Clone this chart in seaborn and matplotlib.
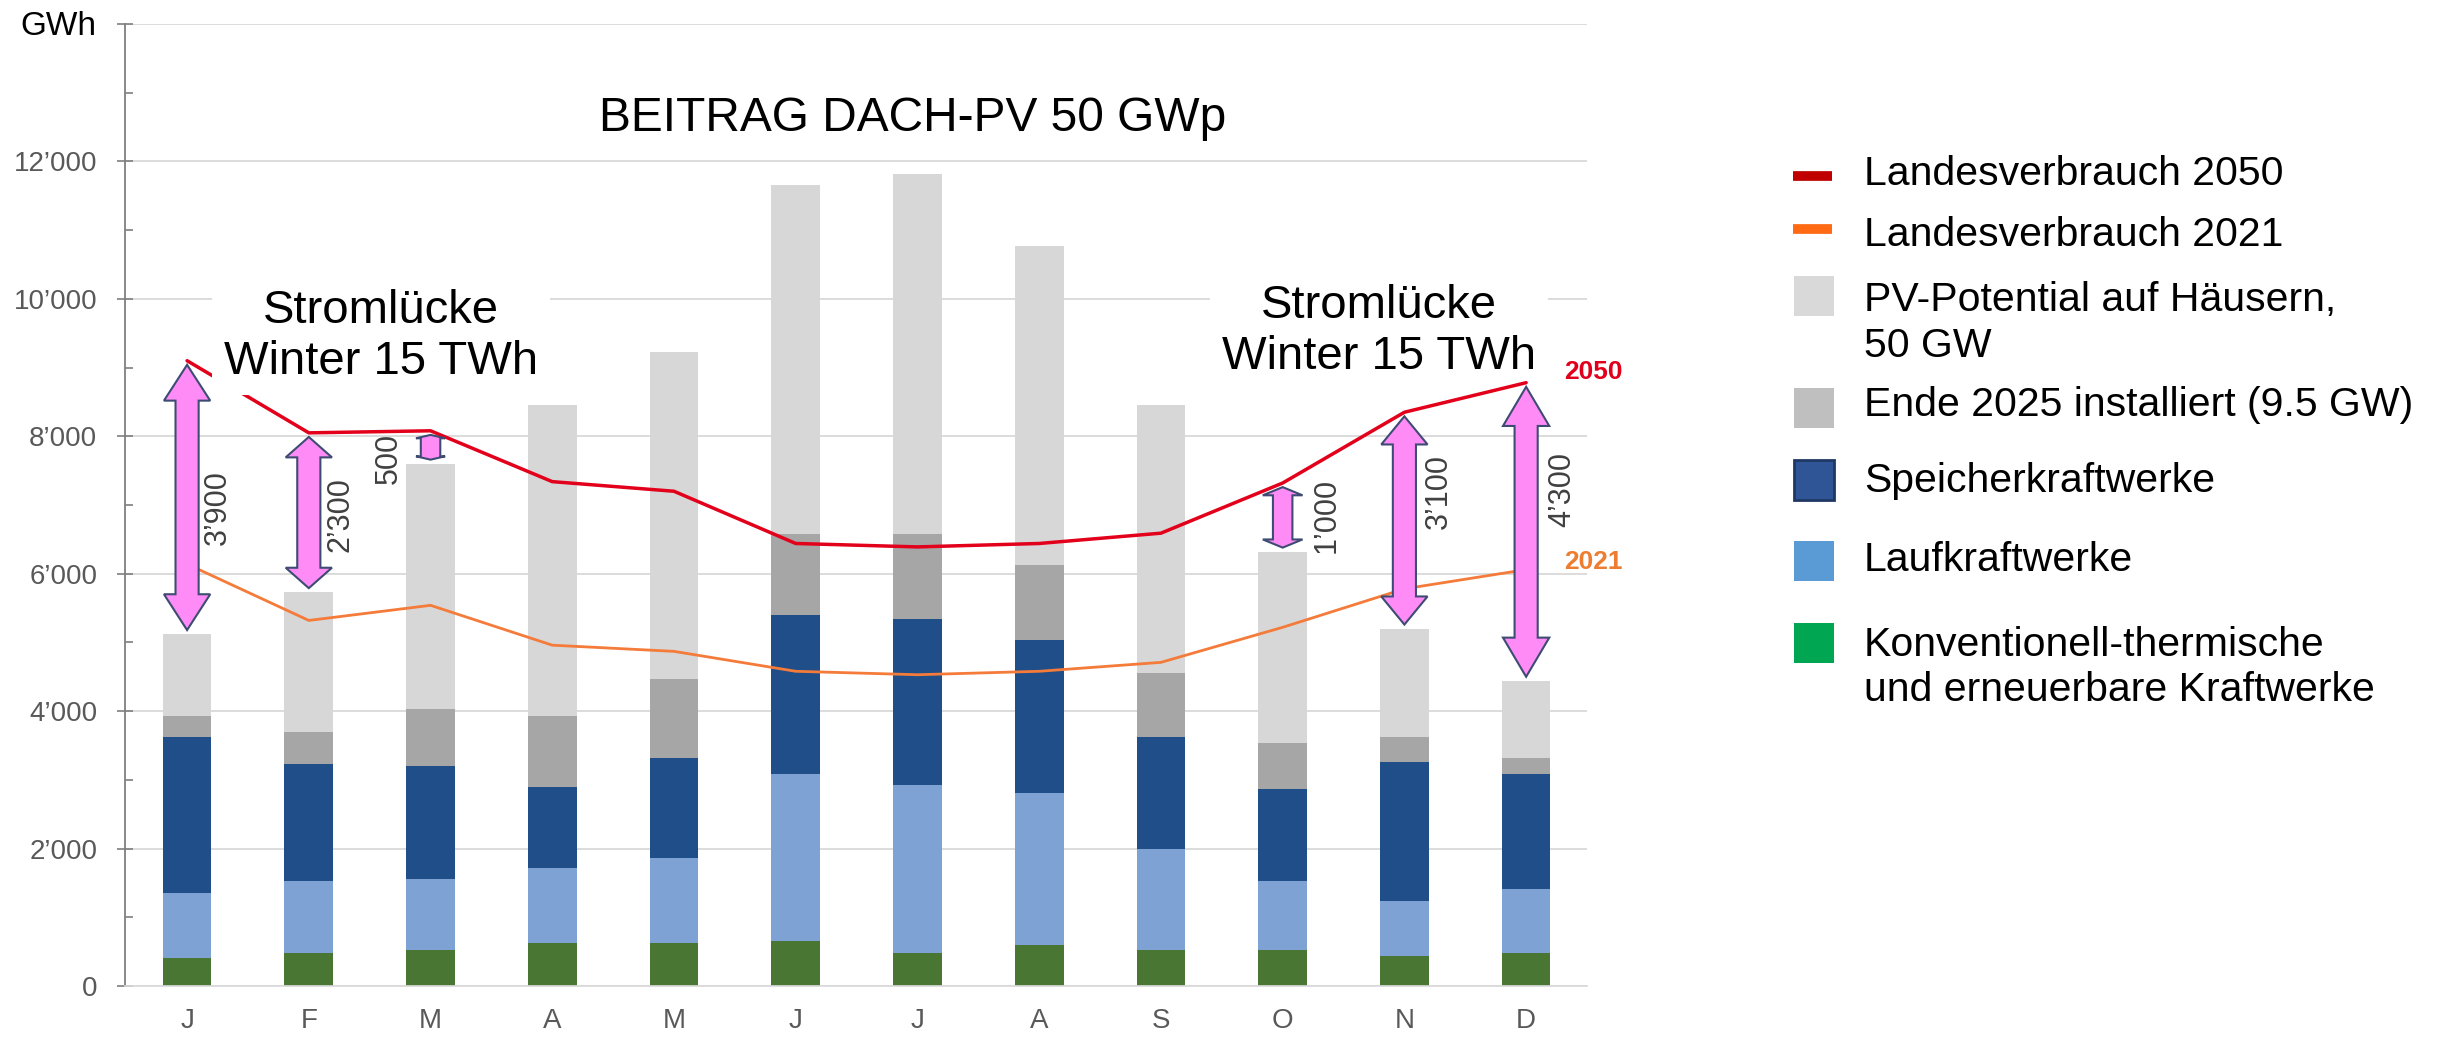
import numpy as np
import pandas as pd
import seaborn as sns
import matplotlib.pyplot as plt
from matplotlib.patches import Polygon, Rectangle
from matplotlib.lines import Line2D
from matplotlib.ticker import FuncFormatter, MultipleLocator

# --- data (GWh per month) ---
months = ['J', 'F', 'M', 'A', 'M', 'J', 'J', 'A', 'S', 'O', 'N', 'D']
thermisch = [410, 475, 530, 620, 620, 650, 475, 590, 530, 530, 440, 475]
laufkraft = [940, 1055, 1030, 1090, 1250, 2430, 2455, 2220, 1460, 1000, 790, 935]
speicher = [2280, 1705, 1645, 1190, 1455, 2320, 2410, 2230, 1640, 1340, 2030, 1670]
pv_2025 = [300, 455, 830, 1030, 1140, 1180, 1240, 1090, 925, 665, 370, 245]
pv_potential = [1190, 2040, 3565, 4530, 4765, 5070, 5230, 4640, 3905, 2785, 1570, 1115]
verbrauch_2050 = [9100, 8050, 8080, 7340, 7200, 6440, 6390, 6440, 6590, 7320, 8350, 8780]
verbrauch_2021 = [6140, 5320, 5540, 4960, 4870, 4580, 4530, 4580, 4710, 5220, 5780, 6060]

# gaps between 2050 demand and bar total
gap_months = [0, 1, 2, 9, 10, 11]
gap_labels = ['3\u2019900', '2\u2019300', '500', '1\u2019000', '3\u2019100', '4\u2019300']

# --- setup ---
sns.set_theme(style='white')
plt.rcParams['font.family'] = ['Liberation Sans', 'DejaVu Sans']

W, H = 2446, 1037
fig = plt.figure(figsize=(W / 100, H / 100), dpi=100)
ax = fig.add_axes([125 / W, 1 - 986 / H, 1462 / W, (986 - 24) / H])

pos = list(range(len(months)))
layers = [thermisch, laufkraft, speicher, pv_2025, pv_potential]
bar_colors = ['#4A7634', '#7FA2D4', '#1F4E89', '#A6A6A6', '#D7D7D7']
tops = np.cumsum(np.array(layers), axis=0)
df = pd.DataFrame({'pos': pos})
for i in range(len(layers)):
    df[f'top{i}'] = tops[i]

# stacked bars: draw the cumulative totals from the top layer down
for i in reversed(range(len(layers))):
    sns.barplot(data=df, x='pos', y=f'top{i}', color=bar_colors[i], width=0.4,
                saturation=1, errorbar=None, linewidth=0, ax=ax, zorder=2)

sns.lineplot(x=pos, y=verbrauch_2050, color='#E3001B', linewidth=2.5, ax=ax, zorder=3)
sns.lineplot(x=pos, y=verbrauch_2021, color='#F47B3A', linewidth=2.0, ax=ax, zorder=3)

# --- gap arrows ---
label_dx = [0.25, 0.26, -0.34, 0.36, 0.28, 0.30]
label_frac = [0.46, 0.49, 0.05, 0.54, 0.64, 0.645]
totals = tops[-1]
for k, m in enumerate(gap_months):
    y0 = totals[m] + 60
    y1 = verbrauch_2050[m] - 60
    span = y1 - y0
    hl = 0.135 * span
    head = min(0.19, 0.09 + span / 12000)
    body = 0.095 if span > 1500 else 0.08
    x = m
    pts = [(x, y1), (x + head, y1 - hl), (x + body, y1 - hl), (x + body, y0 + hl),
           (x + head, y0 + hl), (x, y0), (x - head, y0 + hl), (x - body, y0 + hl),
           (x - body, y1 - hl), (x - head, y1 - hl)]
    ax.add_patch(Polygon(pts, closed=True, facecolor='#FF8CF6', edgecolor='#3E4C74',
                         linewidth=1.5, zorder=4))
    ax.text(x + label_dx[k], y0 + label_frac[k] * span, gap_labels[k], rotation=90,
            ha='center', va='center', fontsize=22, color='#404040', zorder=6)

# --- axes styling ---
ax.set_xlim(-0.51, 11.5)
ax.set_ylim(0, 14000)
ax.set_xticks(pos)
ax.set_xticklabels(months)
ax.set_xlabel('')
ax.set_ylabel('')
ax.yaxis.set_major_locator(MultipleLocator(2000))
ax.yaxis.set_minor_locator(MultipleLocator(1000))
ax.yaxis.set_major_formatter(FuncFormatter(
    lambda v, p: '' if v >= 14000 else f'{int(v):,}'.replace(',', '\u2019')))
ax.grid(axis='y', which='major', color='#D9D9D9', linewidth=1.3)
ax.set_axisbelow(True)
ax.tick_params(axis='x', length=0, pad=16, labelsize=20, labelcolor='#595959')
ax.tick_params(axis='y', which='major', left=True, direction='inout', length=12,
               width=1.2, color='#7F7F7F', pad=14, labelsize=20, labelcolor='#595959')
ax.tick_params(axis='y', which='minor', left=True, direction='in', length=6,
               width=1.2, color='#7F7F7F')
for s in ['top', 'right']:
    ax.spines[s].set_visible(False)
ax.spines['bottom'].set_color('#D9D9D9')
ax.spines['left'].set_color('#7F7F7F')
ax.spines['left'].set_linewidth(1.3)

# --- texts (va='baseline' on multi-line text aligns the last line) ---
fig.text(96 / W, 1 - 35 / H, 'GWh', ha='right', va='baseline', fontsize=24, color='black')
ax.text(5.96, 12450, 'BEITRAG DACH-PV 50 GWp', ha='center', va='baseline', fontsize=34.5,
        color='black')
ax.text(1.59, 8911, 'Stromlücke\nWinter 15 TWh', ha='center', va='baseline',
        multialignment='center', fontsize=34, color='black', linespacing=1.2, zorder=5,
        bbox=dict(boxstyle='square,pad=0.25', facecolor='white', edgecolor='none'))
ax.text(9.79, 8984, 'Stromlücke\nWinter 15 TWh', ha='center', va='baseline',
        multialignment='center', fontsize=34, color='black', linespacing=1.2, zorder=2.5,
        bbox=dict(boxstyle='square,pad=0.25', facecolor='white', edgecolor='none'))
ax.text(11.31, 8840, '2050', ha='left', va='baseline', fontsize=19, fontweight='bold',
        color='#E0001B')
ax.text(11.31, 6067, '2021', ha='left', va='baseline', fontsize=19, fontweight='bold',
        color='#ED7D31')

# --- legend (drawn by hand to follow the original spacing) ---
def fx(px):
    return px / W

def fy(py):
    return 1 - py / H

# kind, colour, edge, label, swatch centre y (px), last-line baseline y (px)
legend_items = [
    ('line', '#C00000', None, 'Landesverbrauch 2050', 176, 185),
    ('line', '#FF6A13', None, 'Landesverbrauch 2021', 229, 246),
    ('box', '#D9D9D9', None, 'PV-Potential auf Häusern,\n50 GW', 296, 357),
    ('box', '#BFBFBF', None, 'Ende 2025 installiert (9.5 GW)', 408, 416),
    ('box', '#2F5597', '#1F3864', 'Speicherkraftwerke', 480, 492),
    ('box', '#5B9BD5', None, 'Laufkraftwerke', 561, 571),
    ('box', '#00A651', None, 'Konventionell-thermische\nund erneuerbare Kraftwerke', 643, 701),
]
for kind, col, ec, label, yc, yb in legend_items:
    if kind == 'line':
        fig.add_artist(Line2D([fx(1793), fx(1832)], [fy(yc), fy(yc)], color=col,
                              linewidth=7, solid_capstyle='butt'))
    else:
        fig.add_artist(Rectangle((fx(1794), fy(yc + 20)), 40 / W, 40 / H,
                                 facecolor=col, edgecolor=ec if ec else 'none',
                                 linewidth=2 if ec else 0))
    fig.text(fx(1864), fy(yb), label, ha='left', va='baseline', fontsize=29.5,
             color='black', linespacing=1.25)

fig.savefig('out.png', dpi=100)
